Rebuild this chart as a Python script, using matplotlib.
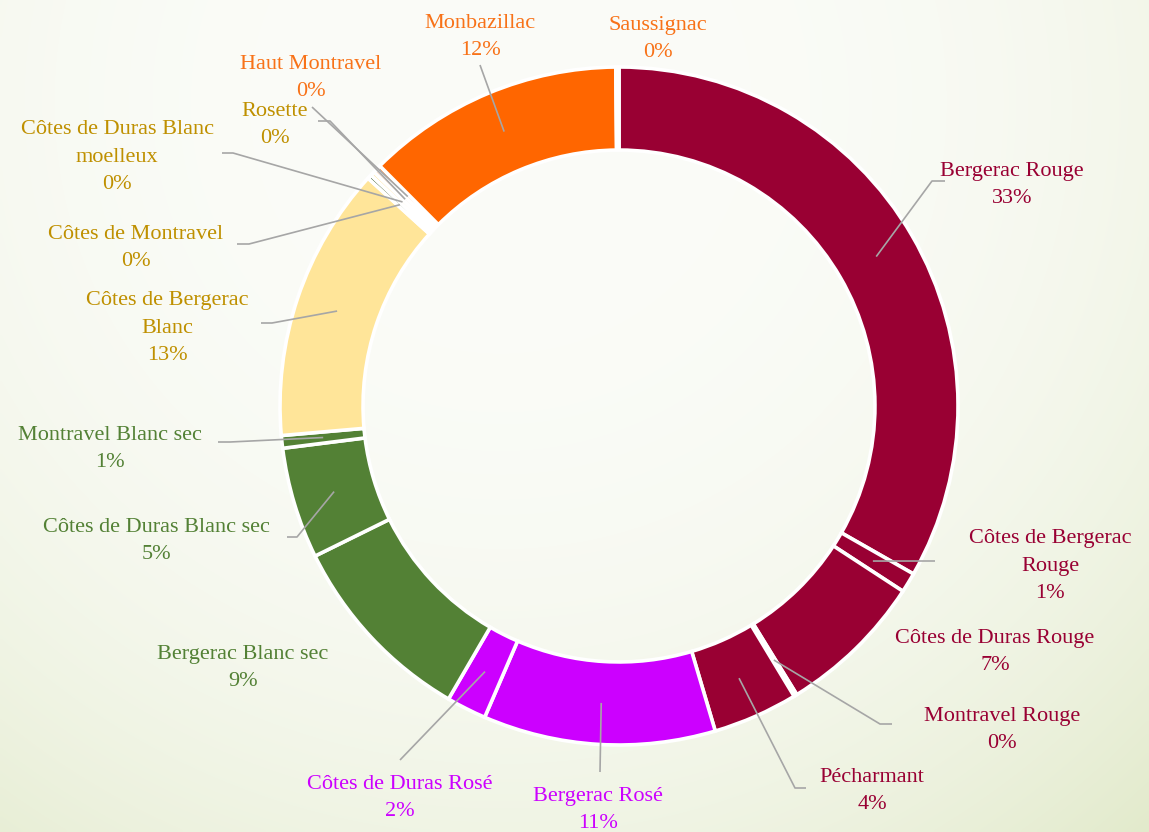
import matplotlib.pyplot as plt
import numpy as np
from matplotlib.colors import to_rgb

# wine appellations, clockwise from 12 o'clock
names = ["Bergerac Rouge", "Côtes de Bergerac Rouge", "Côtes de Duras Rouge",
         "Montravel Rouge", "Pécharmant", "Bergerac Rosé", "Côtes de Duras Rosé",
         "Bergerac Blanc sec", "Côtes de Duras Blanc sec", "Montravel Blanc sec",
         "Côtes de Bergerac Blanc", "Côtes de Montravel",
         "Côtes de Duras Blanc moelleux", "Rosette", "Haut Montravel",
         "Monbazillac", "Saussignac"]
shares = [33.2, 0.95, 7.0, 0.15, 4.05, 11.05, 1.9, 9.3, 5.3, 0.6, 13.1,
          0.2, 0.2, 0.2, 0.2, 12.3, 0.15]
label_names = ["Bergerac Rouge", "Côtes de Bergerac\nRouge", "Côtes de Duras Rouge",
               "Montravel Rouge", "Pécharmant", "Bergerac Rosé", "Côtes de Duras Rosé",
               "Bergerac Blanc sec", "Côtes de Duras Blanc sec", "Montravel Blanc sec",
               "Côtes de Bergerac\nBlanc", "Côtes de Montravel",
               "Côtes de Duras Blanc\nmoelleux", "Rosette", "Haut Montravel",
               "Monbazillac", "Saussignac"]

ROUGE, ROSE, SEC, GOLD, ORANGE = "#990033", "#cc00ff", "#538135", "#bf9000", "#ff6600"
slice_colors = [ROUGE, ROUGE, ROUGE, "#ffc000", ROUGE, ROSE, ROSE, SEC, SEC, SEC,
                "#ffe599", "#385723", "#ffe599", "#f8cbad", ORANGE, ORANGE, ORANGE]
text_colors = [ROUGE, ROUGE, ROUGE, ROUGE, ROUGE, ROSE, ROSE, SEC, SEC, SEC,
               GOLD, GOLD, GOLD, GOLD, "#f87218", "#f87218", "#f87218"]

# label layout in pixels: text centre, leader elbow, leader end (None = no leader)
W, H = 1149, 832
CX, CY, R = 619, 406, 339
label_px = [(1012, 185), (1050, 566), (995, 652), (1002, 730), (872, 791),
            (598, 810), (400, 798), (243, 668), (156, 541), (110, 449),
            (167, 328), (136, 248), (117, 157), (275, 125), (311, 78),
            (480, 37), (658, 39)]
leader_px = [((932, 181), (945, 181)), ((935, 561), (935, 561)), None,
             ((880, 724), (892, 724)), ((795, 788), (806, 788)),
             ((600, 772), (600, 772)), ((400, 760), (400, 760)), None,
             ((297, 537), (287, 537)), ((230, 442), (218, 442)),
             ((272, 323), (261, 323)), ((249, 244), (237, 244)),
             ((233, 153), (222, 153)), ((330, 121), (318, 121)),
             ((312, 107), (312, 107)), ((480, 65), (480, 65)), None]


def px(p):
    return ((p[0] - CX) / R, (CY - p[1]) / R)


XL = (-CX / R, (W - CX) / R)
YL = (-(H - CY) / R, CY / R)

fig = plt.figure(figsize=(W / 100, H / 100), dpi=100)
ax = fig.add_axes([0, 0, 1, 1])

# soft radial background, near white up top, pale green toward the bottom corners
gx, gy = np.meshgrid(np.arange(0, W, 4), np.arange(0, H, 4))
d = np.hypot(gx - 500, gy - 100) / 980
t = np.clip(d, 0, 1) ** 2.8
c0, c1 = np.array(to_rgb("#fbfcf8")), np.array(to_rgb("#e2eacb"))
bg = c0 + (c1 - c0) * t[..., None]
ax.imshow(bg, extent=[XL[0], XL[1], YL[0], YL[1]], origin="upper", zorder=0,
          aspect="auto", interpolation="bilinear")

wedges, _ = ax.pie(shares, colors=slice_colors, startangle=90, counterclock=False,
                   radius=1, wedgeprops=dict(width=0.245, edgecolor="white",
                                             linewidth=2.6), normalize=True)
for w in wedges:
    w.set_zorder(2)

ax.set_aspect("auto")
ax.set_xlim(*XL)
ax.set_ylim(*YL)
ax.axis("off")

total = sum(shares)
for i, w in enumerate(wedges):
    pct = round(shares[i] / total * 100)
    tx, ty = px(label_px[i])
    ax.text(tx, ty, f"{label_names[i]}\n{pct}%", ha="center", va="center",
            color=text_colors[i], fontsize=16, family="Liberation Serif",
            linespacing=1.6, zorder=4)
    if leader_px[i] is None:
        continue
    mid = np.deg2rad((w.theta1 + w.theta2) / 2)
    rr = 1 - 0.245 / 2
    sx, sy = rr * np.cos(mid), rr * np.sin(mid)
    ex1, ey1 = px(leader_px[i][0])
    ex2, ey2 = px(leader_px[i][1])
    ax.plot([sx, ex1, ex2], [sy, ey1, ey2], color="#a6a6a6", lw=1.2, zorder=3,
            solid_capstyle="butt")

fig.savefig("out.png", dpi=100)
